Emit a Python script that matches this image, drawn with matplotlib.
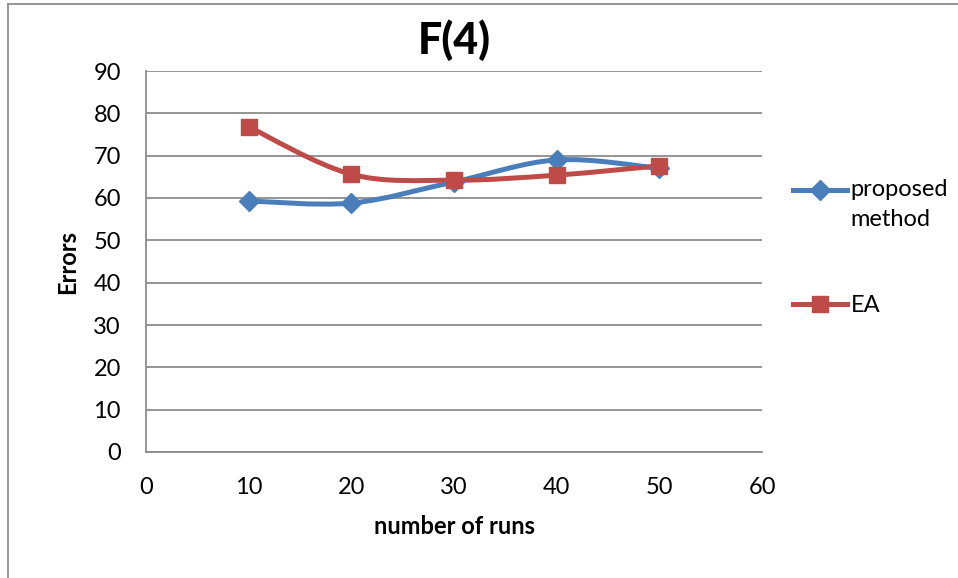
import matplotlib
matplotlib.use("Agg")
import matplotlib.pyplot as plt
from matplotlib.path import Path
from matplotlib.patches import PathPatch
from matplotlib.lines import Line2D
from matplotlib.legend_handler import HandlerLine2D
import numpy as np

plt.rcParams['font.family'] = ['Lato', 'DejaVu Sans']

runs = [10, 20, 30, 40, 50]
proposed = [59.3, 58.8, 63.8, 69.0, 67.0]
ea = [76.8, 65.6, 64.2, 65.4, 67.6]
series_names = ["proposed\nmethod", "EA"]
x_ticks = [0, 10, 20, 30, 40, 50, 60]
y_ticks = [0, 10, 20, 30, 40, 50, 60, 70, 80, 90]

BLUE = "#4A7EBB"
RED = "#BE4B48"
GRID = "#8C8C8C"
FS = 17


def smooth_path(xs, ys):
    pts = np.column_stack([xs, ys]).astype(float)
    n = len(pts)
    verts = [pts[0]]
    codes = [Path.MOVETO]
    for i in range(n - 1):
        p0 = pts[i - 1] if i > 0 else pts[i]
        p1 = pts[i]
        p2 = pts[i + 1]
        p3 = pts[i + 2] if i + 2 < n else pts[i + 1]
        c1 = p1 + (p2 - p0) / 6.0
        c2 = p2 - (p3 - p1) / 6.0
        verts += [c1, c2, p2]
        codes += [Path.CURVE4] * 3
    return Path(verts, codes)


class FirstLineHandler(HandlerLine2D):
    """Place the legend handle level with the first line of a 2-line label."""
    def __init__(self, shift=0.0, **kw):
        super().__init__(**kw)
        self.shift = shift

    def create_artists(self, legend, orig_handle, xdescent, ydescent,
                       width, height, fontsize, trans):
        return super().create_artists(legend, orig_handle, xdescent,
                                      ydescent - self.shift, width, height,
                                      fontsize, trans)


fig = plt.figure(figsize=(9.58, 5.78), dpi=100)
ax = fig.add_axes([146 / 958, 1 - 452 / 578, (762 - 146) / 958, (452 - 71) / 578])

LW = 3.6
for ys, color, marker, ms in [(proposed, BLUE, "D", 10), (ea, RED, "s", 12)]:
    patch = PathPatch(smooth_path(runs, ys), facecolor="none", edgecolor=color,
                      lw=LW, capstyle="round", joinstyle="round", zorder=3)
    ax.add_patch(patch)
    ax.plot(runs, ys, linestyle="none", marker=marker, ms=ms, color=color,
            markeredgecolor=color, zorder=4)

ax.set_xlim(0, 60)
ax.set_ylim(0, 90)
ax.set_xticks(x_ticks)
ax.set_yticks(y_ticks)
ax.tick_params(length=0, labelsize=FS, colors="black")
ax.tick_params(axis="x", pad=18)
ax.tick_params(axis="y", pad=18)
ax.yaxis.grid(True, color=GRID, lw=1.3)
ax.set_axisbelow(True)
for s in ["top", "right"]:
    ax.spines[s].set_visible(False)
for s in ["left", "bottom"]:
    ax.spines[s].set_color(GRID)
    ax.spines[s].set_linewidth(1.3)

ax.set_xlabel("number of runs", fontsize=FS, fontweight="bold", labelpad=12)
ax.set_ylabel("Errors", fontsize=FS, fontweight="bold", labelpad=10)

fig.text(454 / 958, 1 - 40 / 578, "F(4)", fontsize=31, fontweight="black",
         ha="center", va="center")

handles = [
    Line2D([], [], color=BLUE, lw=LW, marker="D", ms=10),
    Line2D([], [], color=RED, lw=LW, marker="s", ms=12),
]
leg = fig.legend(handles, series_names, loc="upper left",
                 bbox_to_anchor=(793 / 958, 1 - 179 / 578), frameon=False,
                 fontsize=FS, handlelength=2.3, handletextpad=0.15,
                 labelspacing=2.75, borderaxespad=0, borderpad=0,
                 handler_map={handles[0]: FirstLineHandler(shift=22)})
leg.get_texts()[0].set_linespacing(1.55)

# outer chart border
fig.add_artist(Line2D([8 / 958, 8 / 958], [0, 1 - 4 / 578], color=GRID, lw=1.3))
fig.add_artist(Line2D([8 / 958, 1], [1 - 4 / 578, 1 - 4 / 578], color=GRID, lw=1.3))

fig.savefig("out.png", dpi=100)
